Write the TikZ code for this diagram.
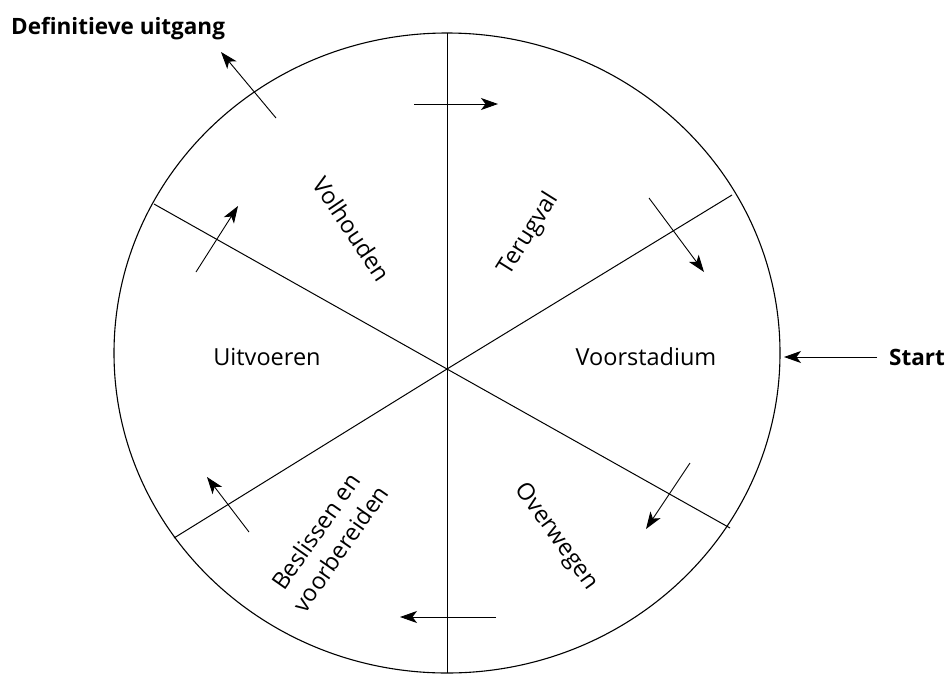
\documentclass[tikz,border=0pt]{standalone}
\usepackage{fontspec}
\setmainfont{Open Sans}
\usetikzlibrary{arrows.meta}
\tikzset{
  rim/.style={line width=1.1pt},
  spoke/.style={line width=1pt},
  flow/.style={line width=0.9pt,-{Stealth[length=17pt,width=12pt,inset=4.5pt]}},
  phase/.style={font=\fontsize{23.5}{30}\selectfont,inner sep=0pt,align=center},
  outlabel/.style={font=\fontsize{22.5}{27}\selectfont\bfseries,inner sep=0pt}
}
\begin{document}
\begin{tikzpicture}[x=1pt,y=-1pt]
\useasboundingbox (0,0) rectangle (950,675);
\fill[white] (0,0) rectangle (950,675);
% rim
\draw[rim] (447,353) ellipse [x radius=333, y radius=320];
% hub and spoke ends
\coordinate (hub) at (447,369);
\coordinate (top) at (447,33);
\coordinate (bot) at (447,673);
\coordinate (ul) at (154,204);
\coordinate (ur) at (732,195);
\coordinate (ll) at (174,538);
\coordinate (lr) at (730,528);
\draw[spoke] (top) -- (bot);
\draw[spoke] (ul) -- (hub) -- (lr);
\draw[spoke] (ur) -- (hub) -- (ll);
% arrows
\coordinate (a1s) at (414,104); \coordinate (a1e) at (498,104);
\coordinate (a2s) at (649,198); \coordinate (a2e) at (704,272);
\coordinate (a3s) at (690,463); \coordinate (a3e) at (646,529);
\coordinate (a4s) at (496,617); \coordinate (a4e) at (400,617);
\coordinate (a5s) at (249,532); \coordinate (a5e) at (207,477);
\coordinate (a6s) at (196,272); \coordinate (a6e) at (238,206);
\coordinate (a7s) at (276,118); \coordinate (a7e) at (221,52);
\coordinate (a8s) at (877,357); \coordinate (a8e) at (784,357);
\draw[flow] (a1s) -- (a1e);
\draw[flow] (a2s) -- (a2e);
\draw[flow] (a3s) -- (a3e);
\draw[flow] (a4s) -- (a4e);
\draw[flow] (a5s) -- (a5e);
\draw[flow] (a6s) -- (a6e);
\draw[flow] (a7s) -- (a7e);
\draw[flow] (a8s) -- (a8e);
% labels
\node[outlabel,anchor=base west] (exit) at (11,34) {Definitieve uitgang};
\node[outlabel,anchor=west] (start) at (889,357) {Start};
\node[phase] (uit) at (267,357) {Uitvoeren};
\node[phase] (voor) at (646,357) {Voorstadium};
\node[phase,rotate=-56] (vol) at (352,229) {Volhouden};
\node[phase,rotate=58] (ter) at (529,234) {Terugval};
\node[phase,rotate=-54] (over) at (556,537) {Overwegen};
\node[phase,rotate=55] (besl) at (328,540) {Beslissen en\\voorbereiden};
\end{tikzpicture}
\end{document}
